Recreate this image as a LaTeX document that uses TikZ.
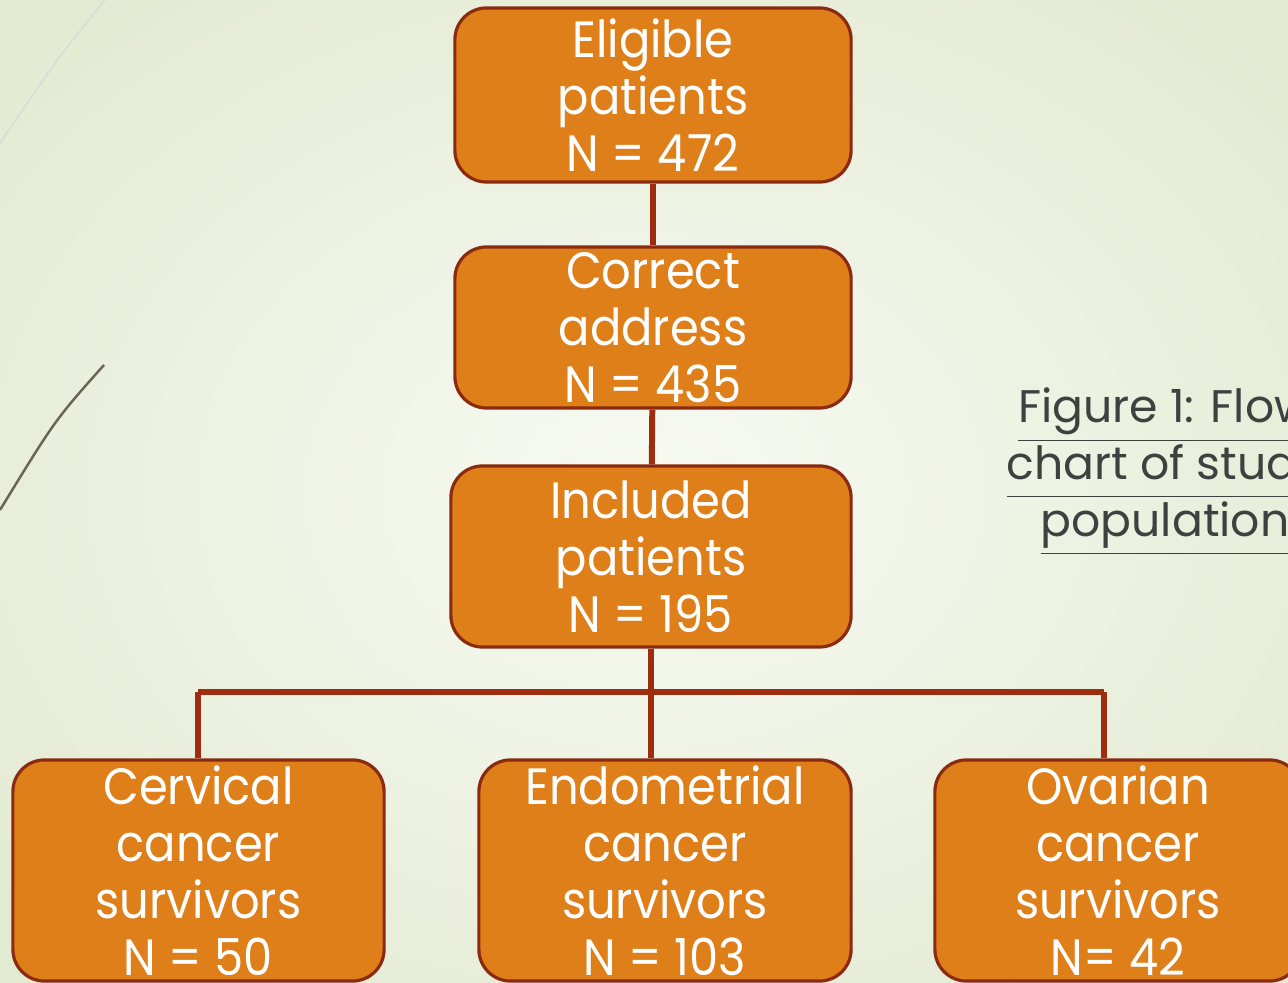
\documentclass[tikz,border=0pt]{standalone}
\usepackage{fontspec}
\setmainfont{Poppins}
\newfontfamily\boxfont[FakeStretch=0.91]{Poppins}
\definecolor{boxfill}{HTML}{DE7F1A}
\definecolor{boxline}{HTML}{8A2A10}
\definecolor{linkred}{HTML}{9E2C0F}
\definecolor{bgedge}{HTML}{E3EAD2}
\definecolor{bgmid}{HTML}{F8FAF3}
\definecolor{captiongray}{HTML}{404040}
\definecolor{strokegray}{HTML}{6B6550}
\tikzset{
  flowbox/.style={rectangle, rounded corners=9pt, fill=boxfill, draw=boxline, line width=0.9pt, text=white, align=center, inner sep=0pt, font=\boxfont\fontsize{14.5}{16.2}\selectfont},
  link/.style={draw=linkred, line width=1.7pt},
  caption/.style={text=captiongray, align=center, inner sep=0pt, font=\fontsize{13}{16.2}\selectfont},
}
\begin{document}
\begin{tikzpicture}[x=0.01cm, y=-0.01cm]
        \useasboundingbox (0,0) rectangle (1288,983);
        \clip (0,0) rectangle (1288,983);
        \shade[inner color=bgmid, outer color=bgedge] (-200,-150) rectangle (1488,1133);
        % left side strokes
        \draw[color=black!15, line width=0.4pt] (105,0) .. controls (60,55) .. (0,143);
        \draw[color=strokegray, line width=0.7pt] (104,365) .. controls (55,420) .. (0,510);

        \node [flowbox, minimum width=3.96cm, minimum height=1.74cm] (A) at (653,95) {Eligible\\patients\\N = 472};
        \node [flowbox, minimum width=3.96cm, minimum height=1.61cm] (B) at (653,327.5) {Correct\\address\\N = 435};
        \node [flowbox, minimum width=4.00cm, minimum height=1.81cm] (C) at (651,556.5) {Included\\patients\\N = 195};

        \node [flowbox, minimum width=3.71cm, minimum height=2.21cm] (D) at (198.5,870.5) {Cervical\\cancer\\survivors\\N = 50};
        \node [flowbox, minimum width=3.72cm, minimum height=2.21cm] (E) at (665,870.5) {Endometrial\\cancer\\survivors\\N = 103};
        \node [flowbox, minimum width=3.66cm, minimum height=2.21cm] (F) at (1118,870.5) {Ovarian\\cancer\\survivors\\N= 42};

        \node [caption] (T) at (1165,472) {\underline{Figure 1: Flow}\\\underline{chart of study}\\\underline{population}};

        \coordinate (jl) at (198,692);
        \coordinate (jr) at (1104,692);

        \draw[link] (A) -- (B); \draw[link] (B) -- (C);
        \draw[link] (C.south) -- (C.south |- E.north);
        \draw[link] (jl) -- (jr);
        \draw[link] (jl) -- (jl |- D.north); \draw[link] (jr) -- (jr |- F.north);
    \end{tikzpicture}
\end{document}
